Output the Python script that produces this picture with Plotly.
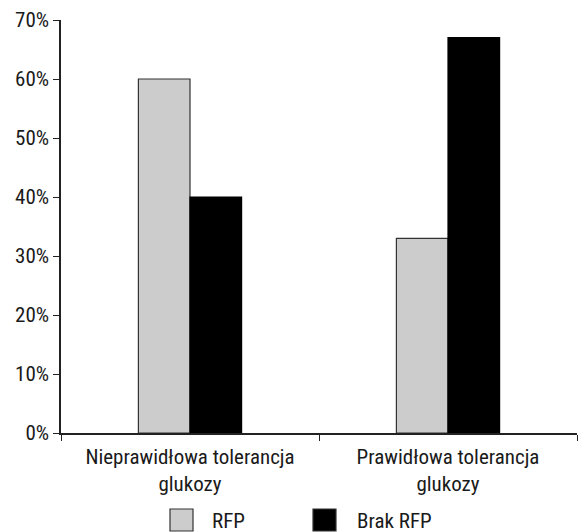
import plotly.graph_objects as go

categories = ["Nieprawidłowa tolerancja<br>glukozy", "Prawidłowa tolerancja<br>glukozy"]
rfp = [0.60, 0.33]
brak_rfp = [0.40, 0.67]
series_names = ["RFP", "Brak RFP"]
series_colors = ["#cccccc", "#000000"]
tick_vals = [0, 0.1, 0.2, 0.3, 0.4, 0.5, 0.6, 0.7]
tick_text = ["0%", "10%", "20%", "30%", "40%", "50%", "60%", "70%"]

FONT = "Roboto Condensed, Liberation Sans Narrow, Arial Narrow, sans-serif"
W, H = 578, 532
ML, MR, MT, MB = 61, 1, 20, 99
PW, PH = W - ML - MR, H - MT - MB

fig = go.Figure()
fig.add_trace(go.Bar(x=categories, y=rfp, name=series_names[0],
                     marker=dict(color=series_colors[0], line=dict(color="#333333", width=1.2))))
fig.add_trace(go.Bar(x=categories, y=brak_rfp, name=series_names[1],
                     marker=dict(color=series_colors[1], line=dict(color="#000000", width=1.2))))

# custom legend (large swatches like the reference)
def px_x(px):
    return (px - ML) / PW

def px_y(py):
    return (H - MB - py) / PH

legend_pos = [(170, 210), (313, 355)]
for (sx, tx), name, col in zip(legend_pos, series_names, series_colors):
    fig.add_shape(type="rect", xref="paper", yref="paper",
                  x0=px_x(sx), x1=px_x(sx + 23), y0=px_y(531), y1=px_y(509),
                  fillcolor=col, line=dict(color="#333333", width=1.2))
    fig.add_annotation(xref="paper", yref="paper", x=px_x(tx), y=px_y(521),
                       xanchor="left", yanchor="middle", text=name, showarrow=False,
                       font=dict(size=21, color="#1a1a1a"))

fig.update_layout(
    width=W, height=H,
    margin=dict(l=ML, r=MR, t=MT, b=MB),
    paper_bgcolor="white", plot_bgcolor="white",
    barmode="group", bargap=0.6, bargroupgap=0,
    font=dict(family=FONT, size=21, color="#1a1a1a"),
    showlegend=False,
    xaxis=dict(showline=True, linecolor="#222222", linewidth=1.5, ticks="outside",
               tickson="boundaries", ticklen=6, tickcolor="#222222", showgrid=False,
               tickfont=dict(size=21), ticklabelstandoff=4, automargin=False),
    yaxis=dict(range=[0, 0.7], tickvals=tick_vals, ticktext=tick_text, showline=True,
               linecolor="#222222", linewidth=1.5, ticks="outside", ticklen=6,
               tickcolor="#222222", showgrid=False, zeroline=False,
               tickfont=dict(size=21), automargin=False),
)

fig.write_html("out.html", config={"displayModeBar": False},
               post_script="document.body.style.margin='0';document.body.style.overflow='hidden';")
